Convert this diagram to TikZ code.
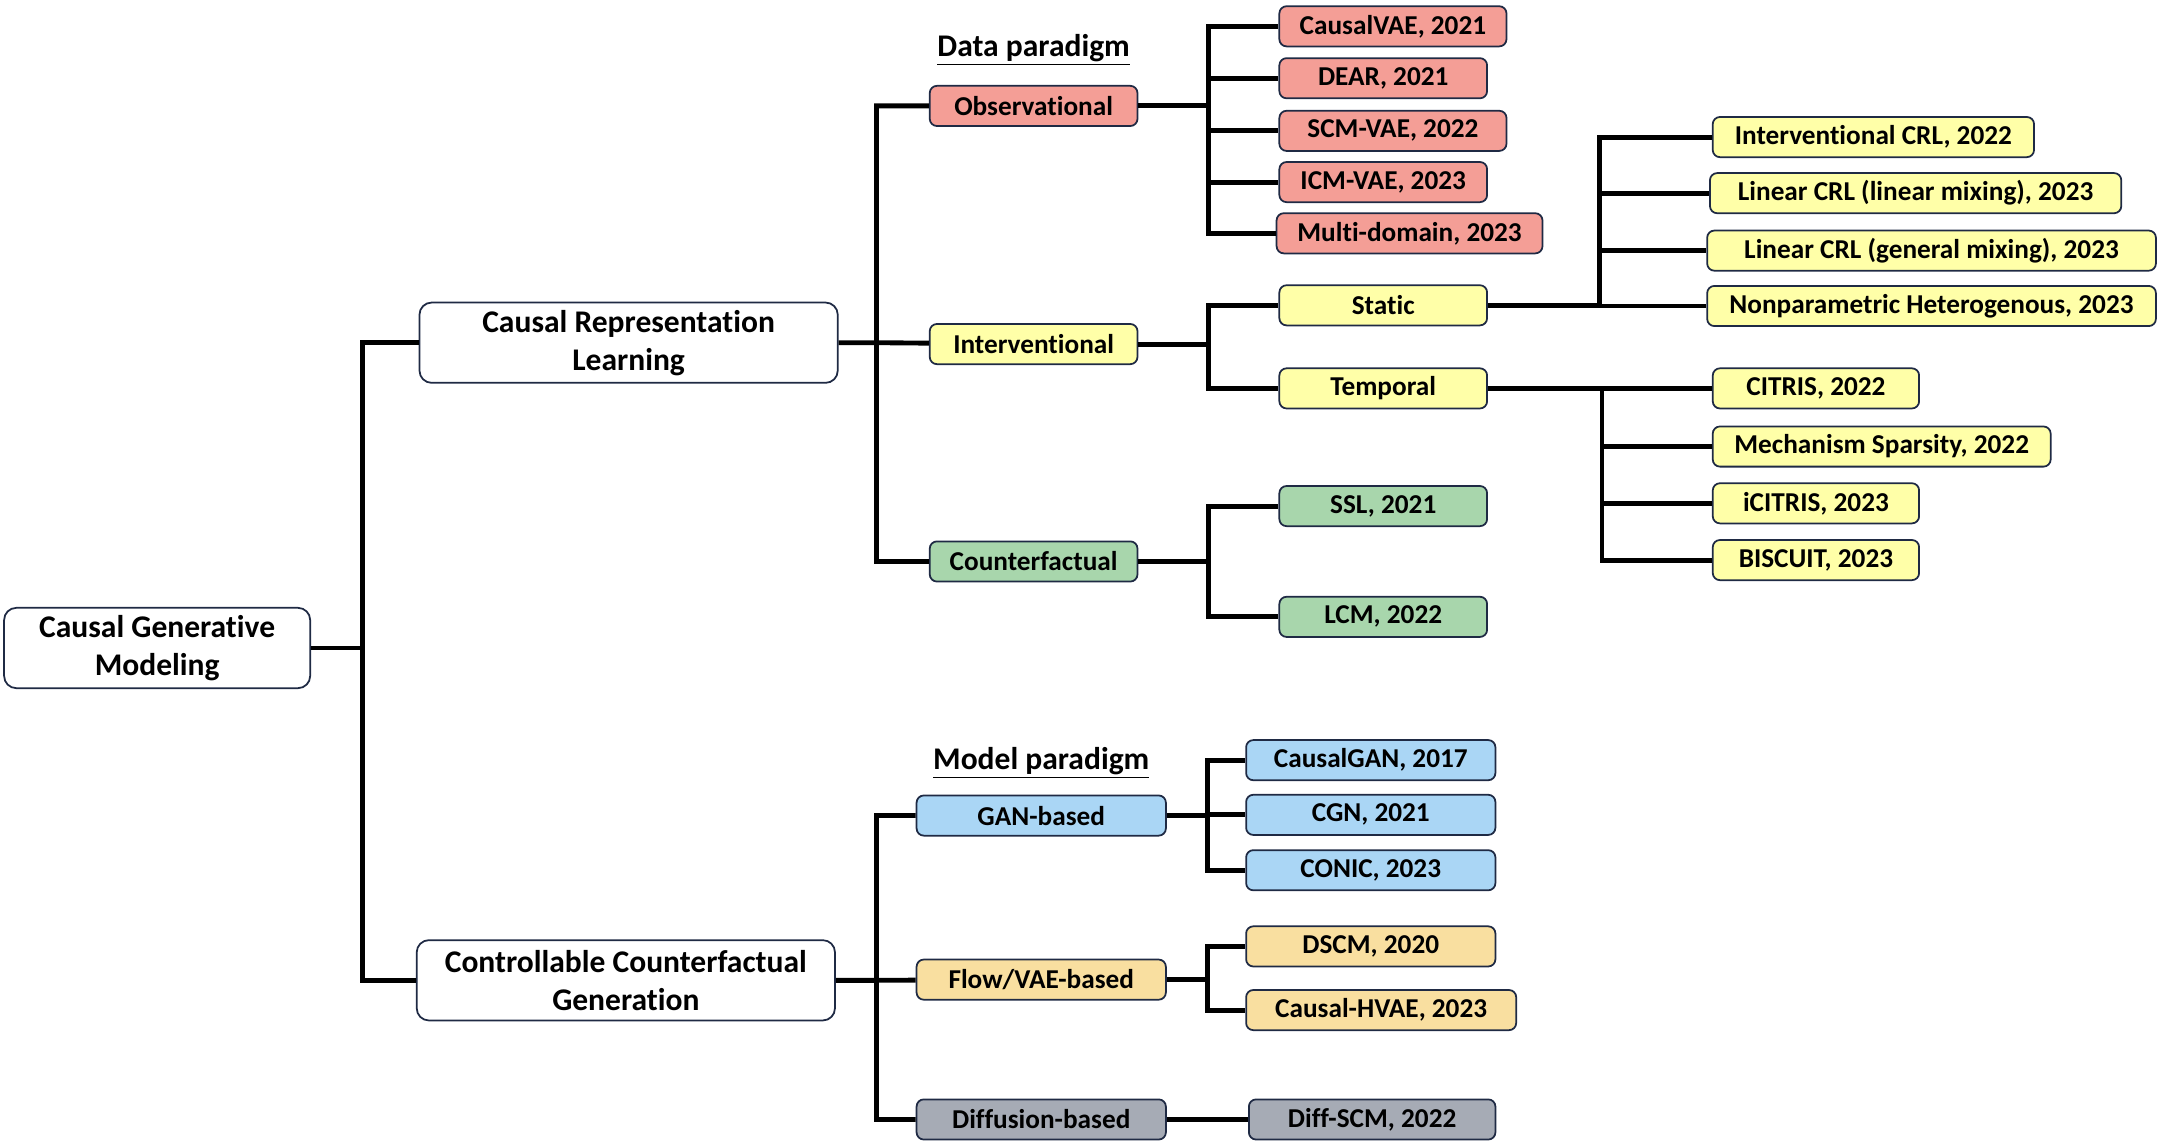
\documentclass[tikz,border=0pt]{standalone}
\usepackage{fontspec}
\setmainfont{Carlito}[Ligatures=NoCommon]
\usepackage{tikz}
\definecolor{navy}{RGB}{31,42,68}
\definecolor{obsred}{RGB}{244,158,150}
\definecolor{intyellow}{RGB}{255,255,168}
\definecolor{cfgreen}{RGB}{168,214,172}
\definecolor{ganblue}{RGB}{170,214,245}
\definecolor{floworange}{RGB}{249,223,160}
\definecolor{diffgray}{RGB}{166,171,181}

\begin{document}
\begin{tikzpicture}[x=0.025cm,y=-0.025cm]
    %
    % `root' is used for the top box and the two level-one boxes.
    % `cat' is used for every coloured box.
    % `branch' is used for the tree lines.
    \tikzstyle{root} = [draw=navy,fill=white,rounded corners=2.2mm,line width=0.9pt,minimum height=1.45cm,minimum width=7.55cm,align=center,font=\fontsize{16.2}{19.5}\selectfont\bfseries]
    \tikzstyle{cat} = [draw=navy,rounded corners=1.3mm,line width=0.9pt,minimum height=0.725cm,minimum width=3.75cm,inner sep=0pt,font=\fontsize{14}{16}\selectfont\bfseries]
    \tikzstyle{title} = [font=\fontsize{16.2}{18}\selectfont\bfseries]
    \tikzstyle{branch} = [line width=2.5pt,line join=miter]
    %
    \useasboundingbox (0,0) rectangle (1560,829.1);
    %
    % Root
    \node[root,minimum width=5.525cm] (cgm) at (113.5,468) {Causal Generative\\Modeling};
    \node[root] (crl) at (454,247.5) {Causal Representation\\Learning};
    \node[root] (ccg) at (452,708) {Controllable Counterfactual\\Generation};
    %
    % Data paradigm
    \node[title] (dtitle) at (746.5,36) {\underline{Data paradigm}};
    \node[cat,fill=obsred] (obs) at (746.5,76.5) {Observational};
    \node[cat,fill=intyellow] (intv) at (746.5,248.5) {Interventional};
    \node[cat,fill=cfgreen] (cf) at (746.5,405.5) {Counterfactual};
    %
    % Observational methods
    \node[cat,fill=obsred,minimum width=4.1cm] (cvae) at (1006,19) {CausalVAE, 2021};
    \node[cat,fill=obsred] (dear) at (999,56.5) {DEAR, 2021};
    \node[cat,fill=obsred,minimum width=4.1cm] (scmvae) at (1006,94.5) {SCM-VAE, 2022};
    \node[cat,fill=obsred] (icmvae) at (999,131.5) {ICM-VAE, 2023};
    \node[cat,fill=obsred,minimum width=4.8cm] (multi) at (1018,168.5) {Multi-domain, 2023};
    %
    % Interventional settings
    \node[cat,fill=intyellow] (static) at (999,220.5) {Static};
    \node[cat,fill=intyellow] (temporal) at (999,280.5) {Temporal};
    %
    % Static methods
    \node[cat,fill=intyellow,minimum width=5.8cm] (icrl) at (1353,99) {Interventional CRL, 2022};
    \node[cat,fill=intyellow,minimum width=7.425cm] (lcrla) at (1383.5,139.5) {Linear CRL (linear mixing), 2023};
    \node[cat,fill=intyellow,minimum width=8.1cm] (lcrlb) at (1395,181) {Linear CRL (general mixing), 2023};
    \node[cat,fill=intyellow,minimum width=8.1cm] (nonpar) at (1395,221) {Nonparametric Heterogenous, 2023};
    %
    % Temporal methods
    \node[cat,fill=intyellow,minimum width=3.725cm] (citris) at (1311.5,280.5) {CITRIS, 2022};
    \node[cat,fill=intyellow,minimum width=6.1cm] (mech) at (1359,322.5) {Mechanism Sparsity, 2022};
    \node[cat,fill=intyellow,minimum width=3.725cm] (icitris) at (1311.5,363.5) {iCITRIS, 2023};
    \node[cat,fill=intyellow,minimum width=3.725cm] (biscuit) at (1311.5,404.5) {BISCUIT, 2023};
    %
    % Counterfactual methods
    \node[cat,fill=cfgreen] (ssl) at (999,365.5) {SSL, 2021};
    \node[cat,fill=cfgreen] (lcm) at (999,445.5) {LCM, 2022};
    %
    % Model paradigm
    \node[title] (mtitle) at (752,551) {\underline{Model paradigm}};
    \node[cat,fill=ganblue,minimum width=4.5cm] (gan) at (752,589) {GAN-based};
    \node[cat,fill=floworange,minimum width=4.5cm] (flow) at (752,707.5) {Flow/VAE-based};
    \node[cat,fill=diffgray,minimum width=4.5cm] (diff) at (752,808.5) {Diffusion-based};
    %
    % Model methods
    \node[cat,fill=ganblue,minimum width=4.5cm] (cgan) at (990,549) {CausalGAN, 2017};
    \node[cat,fill=ganblue,minimum width=4.5cm] (cgn) at (990,588.5) {CGN, 2021};
    \node[cat,fill=ganblue,minimum width=4.5cm] (conic) at (990,628.5) {CONIC, 2023};
    \node[cat,fill=floworange,minimum width=4.5cm] (dscm) at (990,683.5) {DSCM, 2020};
    \node[cat,fill=floworange,minimum width=4.875cm] (chvae) at (997.5,729.5) {Causal-HVAE, 2023};
    \node[cat,fill=diffgray,minimum width=4.45cm] (diffscm) at (991,808.5) {Diff-SCM, 2022};
    %
    % Junctions
    \coordinate (jroot) at (262,468);
    \coordinate (jcrl) at (633,247.5);
    \coordinate (jccg) at (633,708);
    \coordinate (jobs) at (873,76.5);
    \coordinate (jint) at (873,248.5);
    \coordinate (jcf) at (873,405.5);
    \coordinate (jstatic) at (1155,220.5);
    \coordinate (jtemp) at (1157,280.5);
    \coordinate (jgan) at (872,589);
    \coordinate (jflow) at (872,707.5);
    %
    % Lines
    \draw[branch] (cgm) -- (jroot) (jroot) |- (crl) (jroot) |- (ccg);
    \draw[branch] (crl) -- (jcrl) (jcrl) |- (obs) (jcrl) -- (intv) (jcrl) |- (cf);
    \draw[branch] (ccg) -- (jccg) (jccg) |- (gan) (jccg) -- (flow) (jccg) |- (diff);
    \draw[branch] (obs) -- (jobs);
    \foreach \m in {cvae,dear,scmvae,icmvae,multi}
        \draw[branch] (jobs) |- (\m);
    \draw[branch] (intv) -- (jint) (jint) |- (static) (jint) |- (temporal);
    \draw[branch] (static) -- (jstatic);
    \foreach \m in {icrl,lcrla,lcrlb,nonpar}
        \draw[branch] (jstatic) |- (\m);
    \draw[branch] (temporal) -- (jtemp);
    \foreach \m in {citris,mech,icitris,biscuit}
        \draw[branch] (jtemp) |- (\m);
    \draw[branch] (cf) -- (jcf) (jcf) |- (ssl) (jcf) |- (lcm);
    \draw[branch] (gan) -- (jgan);
    \foreach \m in {cgan,cgn,conic}
        \draw[branch] (jgan) |- (\m);
    \draw[branch] (flow) -- (jflow) (jflow) |- (dscm) (jflow) |- (chvae);
    \draw[branch] (diff) -- (diffscm);
    %
\end{tikzpicture}
\end{document}
